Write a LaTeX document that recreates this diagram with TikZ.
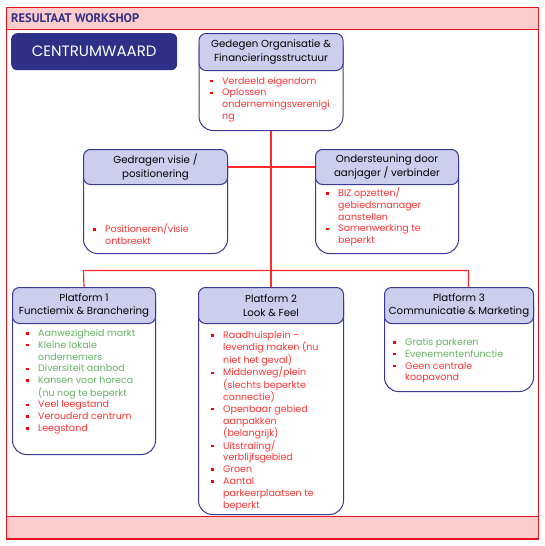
\documentclass[tikz,border=0pt]{standalone}
\usepackage{fontspec}
\setmainfont{Poppins}
\newfontfamily\hfont{PT Sans}
\definecolor{navy}{HTML}{2E3087}
\definecolor{bord}{HTML}{3A3A95}
\definecolor{lav}{HTML}{CDCDEE}
\definecolor{pinkb}{HTML}{FFCCCC}
\definecolor{fred}{HTML}{E8141B}
\definecolor{lred}{HTML}{FF2A2A}
\definecolor{tred}{HTML}{FF3333}
\definecolor{tgreen}{HTML}{66B266}
\definecolor{bred}{HTML}{FF0000}
\newcommand\bu{\textcolor{bred}{\rule[2pt]{2.3pt}{2.3pt}}}
\newcommand\B{\makebox[12pt][l]{\bu}}
\newcommand\N{\hspace*{12pt}}
\newcommand\G{\color{tgreen}}
\begin{document}
\begin{tikzpicture}[x=1pt,y=-1pt,
  bodybox/.style={draw=bord, line width=1pt, fill=white, rounded corners=14pt, anchor=north west, inner sep=0pt},
  hdrbox/.style={draw=bord, line width=1pt, fill=lav, rounded corners=7pt, anchor=north west, inner sep=0pt, align=center, font=\fontsize{10.2}{13.5}\selectfont},
  conn/.style={draw=lred, line width=1.2pt},
  band/.style={draw=fred, line width=1pt, fill=pinkb, minimum width=532pt, minimum height=22pt, inner sep=0pt},
  bl/.style={anchor=base west, inner sep=0pt, text=tred, font=\fontsize{9.5}{11.8}\selectfont}]
\useasboundingbox (0,0) rectangle (544,546);
% frame and bands
\node[draw=fred, line width=1pt, minimum width=532pt, minimum height=532pt, anchor=north west, inner sep=0pt] (frame) at (6,7) {};
\node[band, anchor=north west] (topband) at (6,7) {};
\node[band, anchor=south west] (botband) at (6,539) {};
\node[anchor=west, inner sep=0pt, text=navy, font=\hfont\bfseries\fontsize{12.5}{14}\selectfont] (title) at (11,18.5) {RESULTAAT WORKSHOP};
% CENTRUMWAARD
\node[fill=navy, rounded corners=6pt, anchor=north west, minimum width=166pt, minimum height=37pt, inner sep=0pt, text=white, font=\fontsize{15}{17}\selectfont] (cw) at (11,33) {CENTRUMWAARD};
% boxes
\node[bodybox, minimum width=144pt, minimum height=97pt] (top) at (198.5,33) {};
\node[hdrbox, minimum width=144pt, minimum height=37pt] (toph) at (198.5,33) {Gedegen Organisatie \&\\Financieringsstructuur};
\node[bodybox, minimum width=144pt, minimum height=104pt] (ged) at (83,149) {};
\node[hdrbox, minimum width=144pt, minimum height=35pt] (gedh) at (83,149) {Gedragen visie /\\positionering};
\node[bodybox, minimum width=143pt, minimum height=104pt] (ond) at (315,149) {};
\node[hdrbox, minimum width=143pt, minimum height=35pt] (ondh) at (315,149) {Ondersteuning door\\aanjager / verbinder};
\node[bodybox, minimum width=143pt, minimum height=167pt] (p1) at (12,287) {};
\node[hdrbox, minimum width=143pt, minimum height=36pt] (p1h) at (12,287) {Platform 1\\Functiemix \& Branchering};
\node[bodybox, minimum width=145pt, minimum height=227pt] (p2) at (198,287) {};
\node[hdrbox, minimum width=145pt, minimum height=36pt] (p2h) at (198,287) {Platform 2\\Look \& Feel};
\node[bodybox, minimum width=149pt, minimum height=104pt] (p3) at (384,287) {};
\node[hdrbox, minimum width=149pt, minimum height=36pt] (p3h) at (384,287) {Platform 3\\Communicatie \& Marketing};
% connectors
\coordinate (jl) at (83.5,270.5);
\coordinate (jr) at (468.5,270.5);
\coordinate (p3in) at (468.5,287);
\draw[conn] (top.south) -- (top.south |- p2h.north);
\draw[conn] (gedh.east) -- (ondh.west);
\draw[conn] (p1h.north) -- (jl) -- (jr) -- (p3in);
% texts
\node[bl] (ttop) at (210,84) {\begin{tabular}[t]{@{}l@{}}\B Verdeeld eigendom\\ \B Oplossen\\ \N ondernemingsverenigi\\ \N ng\end{tabular}};
\node[bl] (tged) at (93,232.5) {\begin{tabular}[t]{@{}l@{}}\B Positioneren/visie\\ \N ontbreekt\end{tabular}};
\node[bl] (tond) at (326,196.5) {\begin{tabular}[t]{@{}l@{}}\B BIZ opzetten/\\ \N gebiedsmanager\\ \N aanstellen\\ \B Samenwerking te\\ \N beperkt\end{tabular}};
\node[bl] (tp1) at (26,336.5) {\begin{tabular}[t]{@{}l@{}}\B\G Aanwezigheid markt\\ \B\G Kleine lokale\\ \N\G ondernemers\\ \B\G Diversiteit aanbod\\ \B\G Kansen voor horeca\\ \N\G (nu nog te beperkt\\ \B Veel leegstand\\ \B Verouderd centrum\\ \B Leegstand\end{tabular}};
\node[bl] (tp2) at (211,338.5) {\begin{tabular}[t]{@{}l@{}}\B Raadhuisplein --\\ \N levendig maken (nu\\ \N niet het geval)\\ \B Middenweg/plein\\ \N (slechts beperkte\\ \N connectie)\\ \B Openbaar gebied\\ \N aanpakken\\ \N (belangrijk)\\ \B Uitstraling/\\ \N verblijfsgebied\\ \B Groen\\ \B Aantal\\ \N parkeerplaatsen te\\ \N beperkt\end{tabular}};
\node[bl] (tp3) at (393,345.5) {\begin{tabular}[t]{@{}l@{}}\B\G Gratis parkeren\\ \B\G Evenementenfunctie\\ \B Geen centrale\\ \N koopavond\end{tabular}};
\end{tikzpicture}
\end{document}
